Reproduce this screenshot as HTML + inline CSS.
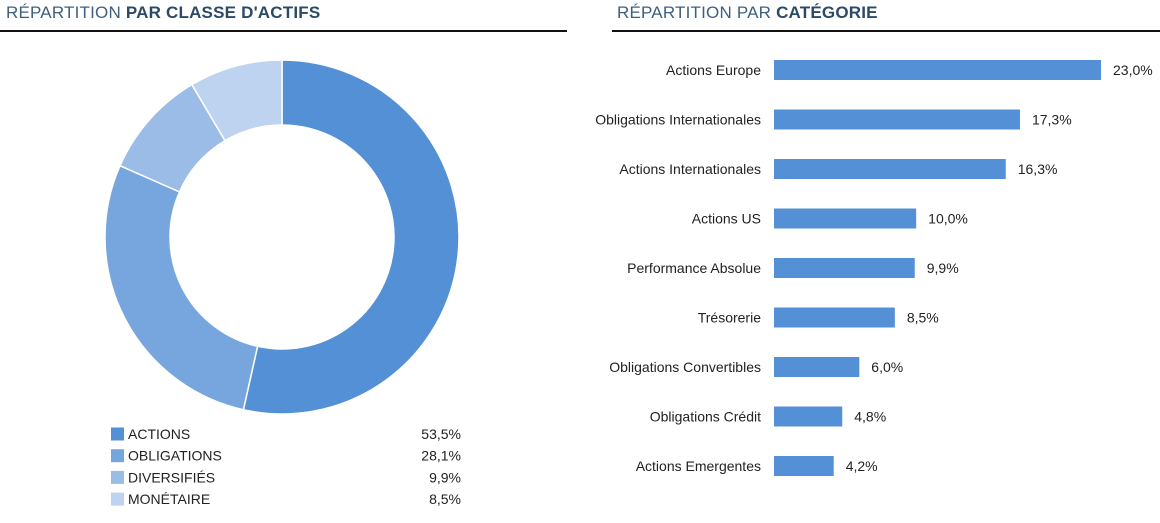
<!DOCTYPE html>
<html><head><meta charset="utf-8"><style>
body{margin:0;width:1160px;height:523px;background:#fff;overflow:hidden;font-family:"Liberation Sans",sans-serif}
.t{position:absolute;top:3px;font-size:17px;color:#2b4a68;letter-spacing:0.2px}
.t span{font-weight:normal;color:#3f5f80}
.t b{font-weight:bold}
.n{font-family:"Liberation Sans Narrow","Liberation Sans",sans-serif}
</style></head><body>
<div class="t" style="left:6px"><span>RÉPARTITION</span> <b>PAR CLASSE D'ACTIFS</b></div>
<div style="position:absolute;left:0;top:30px;width:567px;height:2px;background:#111"></div>
<div class="t" style="left:617px"><span>RÉPARTITION PAR</span> <b>CATÉGORIE</b></div>
<div style="position:absolute;left:612px;top:30px;width:548px;height:2px;background:#111"></div>
<svg id="s" width="1160" height="523" style="position:absolute;left:0;top:0"></svg>
<script>
const classLabels=["ACTIONS","OBLIGATIONS","DIVERSIFIÉS","MONÉTAIRE"];
const classValues=[53.5,28.1,9.9,8.5];
const classColors=["#5390d6","#77a6de","#9bbce6","#bdd3ef"];
const catLabels=["Actions Europe","Obligations Internationales","Actions Internationales","Actions US","Performance Absolue","Trésorerie","Obligations Convertibles","Obligations Crédit","Actions Emergentes"];
const catValues=[23.0,17.3,16.3,10.0,9.9,8.5,6.0,4.8,4.2];
const NS="http://www.w3.org/2000/svg";
const s=document.getElementById('s');
function mk(t,a,txt){const e=document.createElementNS(NS,t);for(const k in a)e.setAttribute(k,a[k]);if(txt!=null)e.textContent=txt;s.appendChild(e);return e;}
const fmt=v=>v.toFixed(1).replace('.',',')+'%';
const FN='"Liberation Sans Narrow","Liberation Sans",sans-serif';
// donut
const cx=282,cy=237,R=177,r=112;
const tot=classValues.reduce((a,b)=>a+b,0);
let a0=-Math.PI/2;
classValues.forEach((v,i)=>{
  const a1=a0+v/tot*2*Math.PI,lg=(a1-a0)>Math.PI?1:0;
  const p=(rr,a)=>(cx+rr*Math.cos(a))+' '+(cy+rr*Math.sin(a));
  const d=`M${p(R,a0)} A${R} ${R} 0 ${lg} 1 ${p(R,a1)} L${p(r,a1)} A${r} ${r} 0 ${lg} 0 ${p(r,a0)} Z`;
  const e=mk('path',{d,fill:classColors[i],stroke:'#fff','stroke-width':1.5});
  
  
  a0=a1;
  const y=434+i*21.7;
  const sq=mk('rect',{x:111,y:y-6.5,width:13,height:13,fill:classColors[i]});
  
  
  const l=mk('text',{x:128,y:y+5,'font-size':14,'font-family':FN,fill:'#222'},classLabels[i]);
  
  
  const vt=mk('text',{x:461,y:y+5,'font-size':14,'font-family':FN,fill:'#222','text-anchor':'end'},fmt(v));
  
  
});
// bars
const x0=774,k=327/23,yS=70,dy=49.5;
catValues.forEach((v,i)=>{
  const y=yS+i*dy;
  const b=mk('rect',{x:x0,y:y-10,width:v*k,height:20,fill:'#5390d6'});
  
  
  const l=mk('text',{x:761,y:y+5,'font-size':14,'font-family':FN,fill:'#222','text-anchor':'end'},catLabels[i]);
  
  
  const vt=mk('text',{x:x0+v*k+12,y:y+5,'font-size':14,'font-family':FN,fill:'#222'},fmt(v));
  
  
});
</script>
</body></html>
